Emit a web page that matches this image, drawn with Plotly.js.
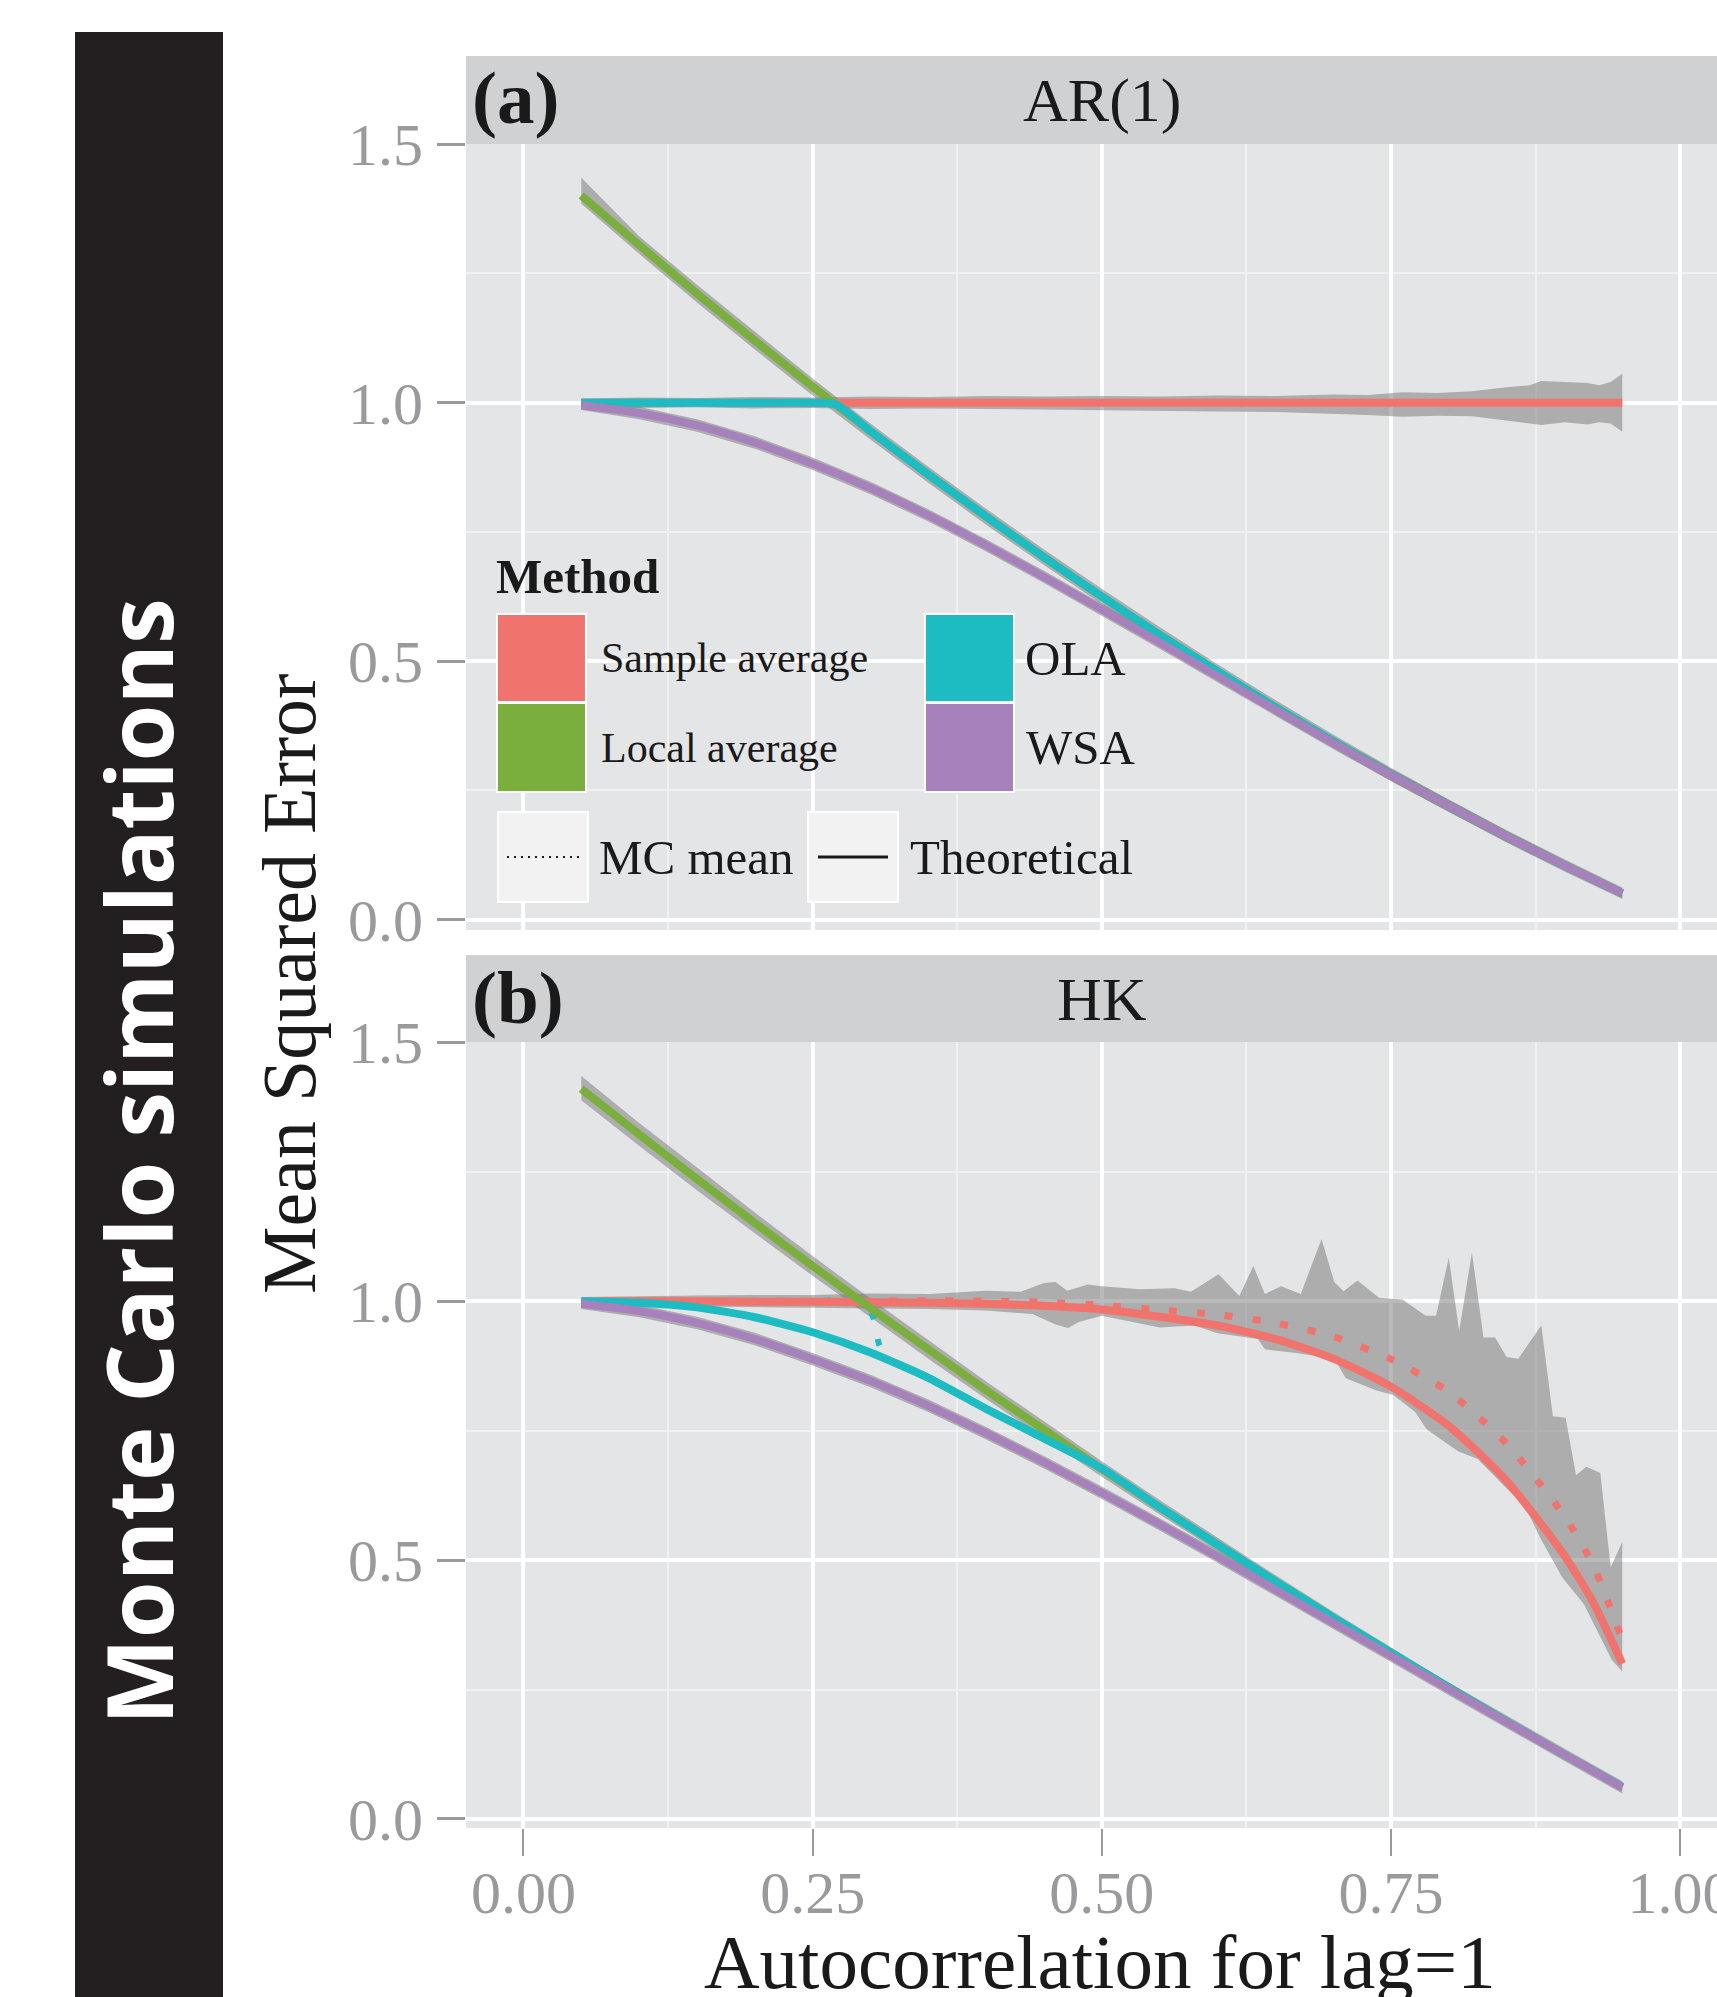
<!DOCTYPE html>
<html>
<head>
<meta charset="utf-8">
<script src="https://cdn.plot.ly/plotly-3.0.1.min.js"></script>
<style>html,body{margin:0;padding:0;background:#fff}#chart{width:1717px;height:1997px}</style>
</head>
<body>
<div id="chart"></div>
<script>
// ---------------- DATA ----------------
const rho = [0.05,0.10,0.15,0.20,0.25,0.30,0.35,0.40,0.45,0.50,0.55,0.60,0.65,0.70,0.75,0.80,0.85,0.90,0.95];

// Panel (a) AR(1) – theoretical MSE
const arSampleAvg = [1,1,1,1,1,1,1,1,1,1,1,1,1,1,1,1,1,1,1];
const arLocalAvg  = [1.401,1.305,1.211,1.120,1.031,0.945,0.861,0.780,0.701,0.625,0.551,0.480,0.411,0.345,0.281,0.220,0.161,0.105,0.051];
const arOlaRho    = [0.05,0.10,0.15,0.20,0.25,0.27,0.30,0.35,0.40,0.45,0.50,0.55,0.60,0.65,0.70,0.75,0.80,0.85,0.90,0.95];
const arOla       = [1,1,1,1,1,0.997,0.945,0.861,0.780,0.701,0.625,0.551,0.480,0.411,0.345,0.281,0.220,0.161,0.105,0.051];
const arWsa       = [0.995,0.980,0.956,0.923,0.882,0.835,0.782,0.724,0.663,0.600,0.536,0.471,0.406,0.342,0.280,0.220,0.161,0.105,0.051];

// Panel (a) Monte Carlo ranges
const arSaBandRho = [0.05,0.10,0.15,0.20,0.25,0.30,0.35,0.40,0.45,0.50,0.55,0.60,0.65,0.70,0.73,0.76,0.79,0.82,0.85,0.87,0.88,0.90,0.92,0.93,0.94,0.95];
const arSaBandHi  = [1.008,1.010,1.009,1.011,1.010,1.012,1.011,1.013,1.012,1.013,1.012,1.014,1.013,1.016,1.015,1.020,1.019,1.022,1.030,1.034,1.042,1.040,1.038,1.034,1.040,1.056];
const arSaBandLo  = [0.992,0.990,0.991,0.989,0.990,0.988,0.989,0.987,0.986,0.985,0.984,0.983,0.982,0.978,0.976,0.973,0.975,0.974,0.965,0.960,0.957,0.962,0.958,0.962,0.960,0.944];
const arLaBandHi  = [1.435,1.322,1.228,1.137,1.047,0.960,0.876,0.795,0.716,0.640,0.566,0.494,0.425,0.358,0.294,0.232,0.172,0.115,0.060];
const arLaBandLo  = [1.385,1.288,1.194,1.103,1.014,0.929,0.845,0.764,0.686,0.610,0.536,0.466,0.397,0.332,0.268,0.208,0.150,0.095,0.042];
const arWsaBandHi = [1.004,0.992,0.968,0.935,0.894,0.847,0.794,0.736,0.675,0.612,0.548,0.483,0.418,0.354,0.292,0.232,0.173,0.117,0.062];
const arWsaBandLo = [0.986,0.968,0.944,0.911,0.870,0.823,0.770,0.712,0.651,0.588,0.524,0.459,0.394,0.330,0.268,0.208,0.149,0.093,0.040];

// Panel (b) HK – theoretical MSE
const hkSaRho     = [0.05,0.10,0.15,0.20,0.25,0.30,0.35,0.40,0.45,0.50,0.55,0.60,0.65,0.70,0.75,0.80,0.85,0.90,0.925,0.95];
const hkSampleAvg = [1.0,1.0,1.0,0.999,0.999,0.998,0.997,0.995,0.991,0.984,0.970,0.953,0.927,0.889,0.835,0.759,0.653,0.509,0.418,0.300];
const hkSampleMC  = [1.0,1.0,1.0,1.0,1.0,1.0,1.001,1.0,0.998,0.992,0.983,0.974,0.958,0.932,0.888,0.825,0.725,0.585,0.490,0.345];
const hkLocalAvg  = [1.410,1.322,1.236,1.151,1.068,0.987,0.907,0.828,0.752,0.676,0.602,0.530,0.459,0.389,0.321,0.254,0.188,0.124,0.062];
const hkOla       = [1.000,0.997,0.988,0.969,0.940,0.901,0.852,0.792,0.735,0.677,0.602,0.530,0.459,0.389,0.321,0.254,0.188,0.124,0.062];
const hkOlaMCRho  = [0.05,0.15,0.25,0.295,0.303,0.308,0.315];
const hkOlaMC     = [1.0,1.0,1.0,1.0,0.965,0.913,0.897];
const hkWsa       = [0.995,0.981,0.958,0.927,0.888,0.846,0.798,0.745,0.689,0.630,0.569,0.507,0.443,0.379,0.315,0.251,0.187,0.124,0.061];

// Panel (b) Monte Carlo ranges
const hkSaHiRho = [0.05,0.10,0.15,0.20,0.25,0.30,0.35,0.40,0.43,0.45,0.46,0.47,0.488,0.50,0.533,0.563,0.577,0.601,0.619,0.631,0.641,0.655,0.672,0.690,0.701,0.709,0.721,0.740,0.760,0.780,0.789,0.800,0.809,0.820,0.830,0.840,0.850,0.860,0.880,0.890,0.901,0.910,0.919,0.931,0.940,0.950];
const hkSaHi    = [1.008,1.010,1.011,1.012,1.012,1.015,1.014,1.020,1.018,1.035,1.037,1.020,1.032,1.029,1.023,1.025,1.018,1.052,1.010,1.068,1.014,1.029,1.014,1.120,1.037,1.019,1.040,1.006,1.003,0.972,0.972,1.084,0.942,1.094,0.930,0.930,0.892,0.889,0.953,0.778,0.775,0.664,0.680,0.668,0.486,0.535];
const hkSaLoRho = [0.05,0.10,0.15,0.20,0.25,0.30,0.35,0.40,0.44,0.46,0.471,0.48,0.50,0.55,0.58,0.60,0.635,0.641,0.668,0.701,0.711,0.737,0.752,0.771,0.781,0.808,0.825,0.852,0.866,0.879,0.898,0.917,0.929,0.941,0.95];
const hkSaLo    = [0.992,0.990,0.989,0.988,0.988,0.986,0.985,0.982,0.975,0.955,0.948,0.960,0.972,0.949,0.953,0.938,0.927,0.907,0.900,0.889,0.851,0.828,0.819,0.786,0.752,0.710,0.695,0.634,0.604,0.543,0.467,0.414,0.360,0.307,0.285];
const hkLaBandHi  = [1.435,1.344,1.258,1.171,1.087,1.005,0.925,0.845,0.768,0.691,0.616,0.543,0.471,0.400,0.331,0.263,0.197,0.132,0.069];
const hkLaBandLo  = [1.388,1.300,1.214,1.131,1.049,0.969,0.889,0.811,0.736,0.661,0.588,0.517,0.447,0.378,0.311,0.245,0.179,0.116,0.055];
const hkWsaBandHi = [1.005,0.993,0.970,0.939,0.900,0.858,0.810,0.757,0.701,0.642,0.581,0.519,0.455,0.391,0.327,0.263,0.199,0.136,0.073];
const hkWsaBandLo = [0.985,0.969,0.946,0.915,0.876,0.834,0.786,0.733,0.677,0.618,0.557,0.495,0.431,0.367,0.303,0.239,0.175,0.112,0.049];

// Labels
const methods = ['Sample average','Local average','OLA','WSA'];
const xTickVals = [0,0.25,0.5,0.75,1];
const xTickText = ['0.00','0.25','0.50','0.75','1.00'];
const yTickVals = [0,0.5,1,1.5];
const yTickText = ['0.0','0.5','1.0','1.5'];

// ---------------- STYLE ----------------
const W = 1717, H = 1997;
const px = v => v / W;
const py = v => 1 - v / H;
const COL = {sa:'#F0746D', la:'#7AAF3E', ola:'#1DBCC2', wsa:'#A781BB'};
const BAND = 'rgba(118,118,118,0.5)';
const SERIF = 'Liberation Serif, Times New Roman, serif';
const TICKGREY = '#9a9a9c';
const LW = 8;

function band(xHi, yHi, xLo, yLo, xa, ya){
  return {x: xHi.concat(xLo.slice().reverse()), y: yHi.concat(yLo.slice().reverse()),
    xaxis: xa, yaxis: ya, type:'scatter', mode:'lines', fill:'toself',
    fillcolor: BAND, line:{width:0}, hoverinfo:'skip', showlegend:false};
}
function line(x, y, color, xa, ya, dash, width){
  return {x, y, xaxis: xa, yaxis: ya, type:'scatter', mode:'lines',
    line:{color, width: width || LW, dash: dash || 'solid', shape:'spline', smoothing:0.6},
    showlegend:false, hoverinfo:'skip'};
}

const traces = [
  // panel (a)
  band(arSaBandRho, arSaBandHi, arSaBandRho, arSaBandLo, 'x', 'y'),
  band(rho, arLaBandHi, rho, arLaBandLo, 'x', 'y'),
  band(rho, arWsaBandHi, rho, arWsaBandLo, 'x', 'y'),
  line(rho, arSampleAvg, COL.sa, 'x', 'y'),
  line(rho, arLocalAvg, COL.la, 'x', 'y'),
  line(arOlaRho, arOla, COL.ola, 'x', 'y'),
  line(rho, arWsa, COL.wsa, 'x', 'y'),
  // panel (b)
  band(hkSaHiRho, hkSaHi, hkSaLoRho, hkSaLo, 'x2', 'y2'),
  band(rho, hkLaBandHi, rho, hkLaBandLo, 'x2', 'y2'),
  band(rho, hkWsaBandHi, rho, hkWsaBandLo, 'x2', 'y2'),
  line(hkSaRho, hkSampleMC, COL.sa, 'x2', 'y2', '8px,20px', 7),
  line(hkOlaMCRho, hkOlaMC, COL.ola, 'x2', 'y2', '7px,20px', 6),
  line(hkSaRho, hkSampleAvg, COL.sa, 'x2', 'y2'),
  line(rho, hkLocalAvg, COL.la, 'x2', 'y2'),
  line(rho, hkOla, COL.ola, 'x2', 'y2'),
  line(rho, hkWsa, COL.wsa, 'x2', 'y2')
];

const xRange = [-0.0497, 1.0319];
const xDomain = [px(466), 1];
function xAxis(showTicks, anchor){
  return {domain: xDomain, range: xRange, anchor, tickmode:'array', tickvals: xTickVals,
    ticktext: xTickText, showticklabels: showTicks, ticks: showTicks ? 'outside' : '',
    ticklen: 27, tickwidth: 2, tickcolor: TICKGREY, ticklabeloverflow:'allow', ticklabelstandoff:-15,
    tickfont:{family: SERIF, size: 60, color: TICKGREY},
    showgrid: true, gridcolor:'#ffffff', gridwidth: 4, zeroline:false, showline:false,
    minor:{dtick:0.125, tick0:0, showgrid:true, gridcolor:'#f1f1f2', gridwidth:2, ticks:''}};
}
function yAxis(domain, bottom, anchor){
  return {domain, range:[bottom, 1.5005], anchor, tickmode:'array', tickvals: yTickVals,
    ticktext: yTickText, ticks:'outside', ticklen: 28, tickwidth: 3, tickcolor: TICKGREY,
    ticklabelstandoff: 2,
    tickfont:{family: SERIF, size: 60, color: TICKGREY},
    showgrid:true, gridcolor:'#ffffff', gridwidth:4, zeroline:false, showline:false,
    minor:{dtick:0.25, tick0:0, showgrid:true, gridcolor:'#f1f1f2', gridwidth:2, ticks:''}};
}

function rect(x0,y0,x1,y1,fill,lineColor,lw){
  return {type:'rect', xref:'paper', yref:'paper', x0:px(x0), x1:px(x1), y0:py(y1), y1:py(y0),
    fillcolor: fill, line:{color: lineColor || 'rgba(0,0,0,0)', width: lw || 0}, layer:'above'};
}
function ann(text, x, y, size, opts){
  return Object.assign({text, xref:'paper', yref:'paper', x:px(x), y:py(y), showarrow:false,
    xanchor:'left', yanchor:'middle', font:{family: SERIF, size, color:'#1b1a1b'}}, opts || {});
}

const shapes = [
  rect(75, 32, 223, 1997, '#231F20'),
  rect(466, 56, 1717, 144, '#D0D1D3'),
  rect(466, 955, 1717, 1042, '#D0D1D3'),
  // legend keys
  rect(497, 614, 586, 702, COL.sa, '#ffffff', 2),
  rect(497, 703, 586, 792, COL.la, '#ffffff', 2),
  rect(925, 614, 1014, 702, COL.ola, '#ffffff', 2),
  rect(925, 703, 1014, 792, COL.wsa, '#ffffff', 2),
  rect(498, 812, 588, 902, '#F2F2F3', '#ffffff', 2),
  rect(808, 812, 898, 902, '#F2F2F3', '#ffffff', 2),
  {type:'line', xref:'paper', yref:'paper', x0:px(507), x1:px(580), y0:py(857), y1:py(857),
   line:{color:'#1b1a1b', width:2, dash:'2px,5px'}, layer:'above'},
  {type:'line', xref:'paper', yref:'paper', x0:px(818), x1:px(888), y0:py(857), y1:py(857),
   line:{color:'#1b1a1b', width:3}, layer:'above'}
];

const annotations = [
  ann('<b>(a)</b>', 470, 98, 75),
  ann('AR(1)', 1102, 100, 62, {xanchor:'center'}),
  ann('<b>(b)</b>', 470, 997, 75),
  ann('HK', 1102, 999, 62, {xanchor:'center'}),
  ann('<b>Monte Carlo simulations</b>', 137, 1162, 92,
      {xanchor:'center', textangle:-90, font:{family:'Open Sans, Noto Sans, sans-serif', size:92, color:'#ffffff'}}),
  ann('Mean Squared Error', 289, 984, 76, {xanchor:'center', textangle:-90}),
  ann('Autocorrelation for lag=1', 1100, 1962, 77, {xanchor:'center'}),
  ann('<b>Method</b>', 494, 576, 49),
  ann(methods[0], 599, 658, 42),
  ann(methods[1], 599, 748, 42),
  ann(methods[2], 1023, 658, 49),
  ann(methods[3], 1024, 748, 49),
  ann('MC mean', 597, 857, 49),
  ann('Theoretical', 908, 857, 49)
];

const layout = {
  width: W, height: H, margin:{l:0, r:0, t:0, b:0, pad:0},
  paper_bgcolor:'#ffffff', plot_bgcolor:'#E4E5E6', showlegend:false,
  xaxis: xAxis(false, 'y'),
  xaxis2: xAxis(true, 'y2'),
  yaxis: yAxis([py(930), py(144)], -0.0201, 'x'),
  yaxis2: yAxis([py(1828), py(1042)], -0.0174, 'x2'),
  shapes, annotations
};

Plotly.newPlot('chart', traces, layout, {staticPlot:true, displayModeBar:false});
</script>
</body>
</html>
